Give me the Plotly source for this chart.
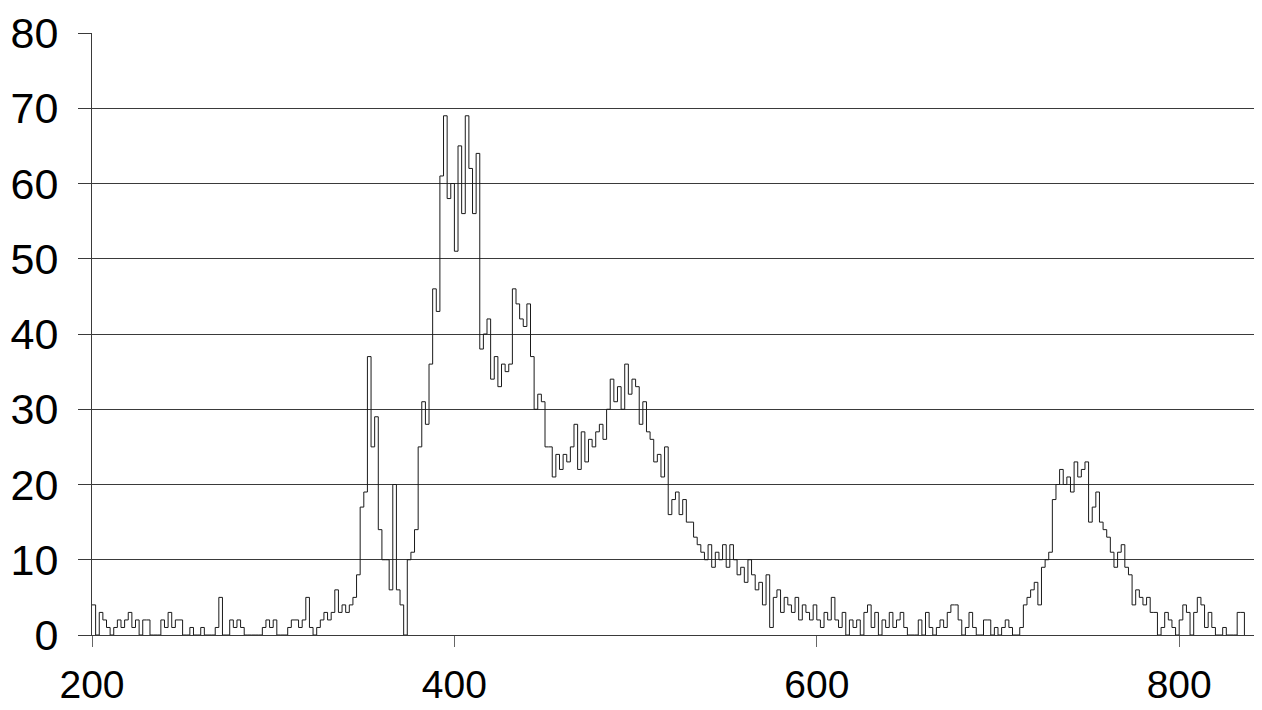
import plotly.graph_objects as go

# Histogram-like counts, one value per 2-unit bin starting at 200
bin_start = 200
bin_width = 2
counts = [
    # 200-248
    4, 0, 3, 2, 1,   0, 1, 2, 1, 2,   3, 1, 2, 0, 2,   2, 0, 0, 0, 2,   1, 3, 1, 2, 2,
    # 250-298
    0, 0, 1, 0, 0,   1, 0, 0, 0, 1,   5, 0, 0, 2, 1,   2, 1, 0, 0, 0,   0, 0, 1, 2, 1,
    # 300-348
    2, 0, 0, 0, 1,   2, 2, 1, 2, 5,   1, 0, 1, 2, 3,   2, 3, 6, 3, 4,   3, 4, 5, 8, 17,
    # 350-398
    19, 37, 25, 29, 14,   10, 10, 6, 20, 6,   4, 0, 10, 11, 14,   25, 31, 28, 36, 46,   43, 61, 69, 58, 60,
    # 400-448
    51, 65, 56, 69, 62,   56, 64, 38, 40, 42,   34, 37, 33, 36, 35,   36, 46, 44, 42, 41,   44, 37, 30, 32, 31,
    # 450-498
    25, 25, 21, 24, 22,   24, 23, 25, 28, 22,   27, 23, 26, 25, 27,   28, 26, 30, 34, 31,   33, 30, 36, 32, 34,
    # 500-548
    33, 28, 31, 27, 26,   23, 24, 21, 25, 16,   18, 19, 16, 18, 15,   15, 13, 12, 11, 10,   12, 9, 11, 10, 12,
    # 550-598
    9, 12, 10, 8, 9,   7, 10, 8, 6, 7,   4, 8, 1, 5, 6,   3, 5, 4, 3, 5,   2, 4, 3, 2, 4,
    # 600-648
    2, 1, 3, 2, 5,   2, 1, 3, 0, 2,   1, 2, 0, 3, 4,   1, 3, 0, 2, 1,   3, 1, 2, 3, 1,
    # 650-698
    0, 0, 0, 2, 0,   3, 1, 0, 1, 2,   1, 3, 4, 4, 2,   0, 1, 3, 1, 0,   0, 2, 2, 0, 1,
    # 700-748
    0, 1, 2, 1, 0,   0, 1, 4, 5, 6,   7, 4, 9, 10, 11,   18, 20, 22, 20, 21,   19, 23, 21, 22, 23,
    # 750-798
    15, 17, 19, 15, 14,   13, 11, 9, 11, 12,   9, 8, 4, 6, 5,   4, 5, 3, 3, 0,   1, 3, 2, 1, 0,
    # 800-836
    2, 4, 3, 0, 3,   5, 4, 1, 3, 1,   0, 0, 1, 0, 0,   0, 3, 3, 0,
]
x_vals = [bin_start + bin_width * i for i in range(len(counts))]

x_ticks = [200, 400, 600, 800]
y_ticks = [0, 10, 20, 30, 40, 50, 60, 70, 80]

grid_col = "#3a3a3a"
font_family = "Liberation Sans, Arial, sans-serif"

fig = go.Figure()
fig.add_trace(go.Scatter(
    x=x_vals, y=counts, mode="lines", line_shape="hv",
    line=dict(color="#1a1a1a", width=1), showlegend=False, hoverinfo="skip",
))

# page body has an 8px default margin; offset the plot area to compensate
fig.update_layout(
    width=1254, height=702,
    margin=dict(l=84, r=0, t=25, b=75),
    paper_bgcolor="white", plot_bgcolor="white",
    font=dict(family=font_family, size=43, color="black"),
)
fig.update_xaxes(
    range=[200, 845.7], tickmode="array", tickvals=x_ticks,
    ticktext=[str(v) for v in x_ticks],
    showgrid=False, zeroline=False,
    showline=True, linecolor=grid_col, linewidth=1,
    ticks="outside", ticklen=11, tickcolor="#666", tickwidth=1,
    ticklabelstandoff=4, automargin=False,
    tickfont=dict(size=39, family=font_family, color="black"),
)
fig.update_yaxes(
    range=[0, 80], tickmode="array", tickvals=y_ticks,
    ticktext=[str(v) for v in y_ticks],
    showgrid=True, gridcolor=grid_col, gridwidth=1, zeroline=False,
    showline=True, linecolor=grid_col, linewidth=1,
    ticks="outside", ticklen=13, tickcolor=grid_col, tickwidth=1,
    ticklabelstandoff=11, automargin=False,
    tickfont=dict(size=43, family=font_family, color="black"),
)

fig.write_html("out.html")
